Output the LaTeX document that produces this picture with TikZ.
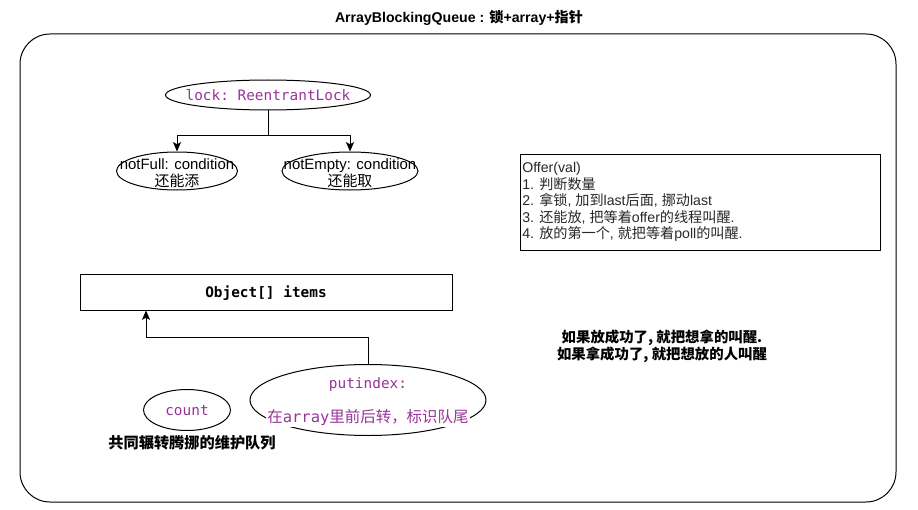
\documentclass[tikz,border=0pt]{standalone}
\usepackage{fontspec}
\setmainfont{Liberation Sans}
\setmonofont{DejaVu Sans Mono}
\newfontfamily\cjk{Noto Sans CJK SC}
\newcommand{\zh}[1]{{\cjk #1}}
\usetikzlibrary{shapes.geometric,arrows.meta}
\definecolor{purp}{RGB}{153,51,153}
\definecolor{txtgray}{RGB}{40,40,40}
\tikzset{
  ell/.style={draw, ellipse, fill=white, line width=0.75pt, inner sep=0pt},
  box/.style={draw, rectangle, fill=white, line width=0.75pt, inner sep=0pt},
  txt/.style={inner sep=0pt, align=center, font=\fontsize{11.2}{12.9}\selectfont},
  code/.style={inner sep=0pt, text=purp, font=\fontsize{10.8}{12}\selectfont\ttfamily},
  arr/.style={line width=0.75pt, -{Stealth[length=7pt,width=6pt,inset=1.5pt]}},
  ln/.style={line width=0.75pt}
}
\begin{document}
\begin{tikzpicture}[x=0.75pt,y=-0.75pt]
\useasboundingbox (0,0) rectangle (918,510);
% title
\node[txt, font=\fontsize{10.6}{12}\selectfont\bfseries] (title) at (459,18) {ArrayBlockingQueue : \zh{锁}+array+\zh{指针}};
% outer frame
\draw[ln, rounded corners=22.5pt] (20,34) rectangle (896,502);
% lock
\node[ell, minimum width=153.75pt, minimum height=22.5pt] (lock) at (268,95) {};
\node[code] (locktxt) at (268,95) {lock: ReentrantLock};
% conditions
\node[ell, minimum width=90.75pt, minimum height=28.5pt] (nf) at (177,171) {};
\node[txt] (nftxt) at (177,173) {notFull: condition\\\zh{还能添}};
\node[ell, minimum width=102pt, minimum height=28.5pt] (ne) at (350,171) {};
\node[txt] (netxt) at (350,173) {notEmpty: condition\\\zh{还能取}};
\coordinate (split) at (268,136);
\draw[ln] (lock.south) -- (split);
\draw[arr] (split) -| (nf.north);
\draw[arr] (split) -| (ne.north);
% offer box
\node[box, minimum width=270pt, minimum height=72pt] (offer) at (700,202) {};
\node[anchor=north west, inner sep=0pt, align=left, text=txtgray, font=\fontsize{10.6}{12.4}\selectfont] (offertxt) at (522,162)
 {Offer(val)\\
  1. \zh{判断数量}\\
  2. \zh{拿锁}, \zh{加到}last\zh{后面}, \zh{挪动}last\\
  3. \zh{还能放}, \zh{把等着}offer\zh{的线程叫醒}.\\
  4. \zh{放的第一个}, \zh{就把等着}poll\zh{的叫醒}.};
% items
\node[box, minimum width=279pt, minimum height=27pt] (items) at (266,292) {};
\node[inner sep=0pt, font=\fontsize{10.8}{12}\selectfont\ttfamily\bfseries] (itemstxt) at (266,293) {Object[] items};
% count
\node[ell, minimum width=65.25pt, minimum height=30.75pt] (count) at (187,410) {};
\node[code] (counttxt) at (187,411) {count};
% putindex
\node[ell, minimum width=177pt, minimum height=53.25pt] (put) at (368,400) {};
\node[code] (puttxt1) at (368,385) {putindex:};
\node[inner sep=1pt, fill=white, text=purp, font=\fontsize{11.6}{14}\selectfont] (puttxt2) at (368,418) {\zh{在}\texttt{array}\zh{里前后转，标识队尾}};
\coordinate (bend) at (146,337);
\draw[arr] (put.north) |- (bend) -- (bend |- items.south);
% bottom label
\node[txt, font=\fontsize{11.4}{12}\selectfont\cjk\bfseries] (shared) at (192,443) {共同辗转腾挪的维护队列};
% right note
\node[txt, font=\fontsize{10.8}{12.75}\selectfont\cjk\bfseries] (note) at (662,346) {如果放成功了, 就把想拿的叫醒.\\如果拿成功了, 就把想放的人叫醒};
\end{tikzpicture}
\end{document}
